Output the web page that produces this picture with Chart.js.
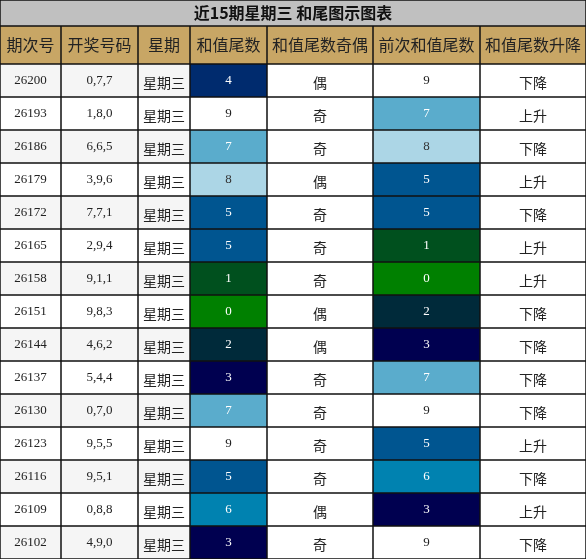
<!DOCTYPE html>
<html>
<head>
<meta charset="utf-8">
<script src="https://cdn.jsdelivr.net/npm/chart.js@4"></script>
<style>body{margin:0;background:#fff}</style>
</head>
<body>
<canvas id="c" width="586" height="559"></canvas>
<script>
const title = '近15期星期三 和尾图示图表';
const headers = ['期次号', '开奖号码', '星期', '和值尾数', '和值尾数奇偶', '前次和值尾数', '和值尾数升降'];
const periods = ['26200', '26193', '26186', '26179', '26172', '26165', '26158', '26151', '26144', '26137', '26130', '26123', '26116', '26109', '26102'];
const draws = ['0,7,7', '1,8,0', '6,6,5', '3,9,6', '7,7,1', '2,9,4', '9,1,1', '9,8,3', '4,6,2', '5,4,4', '0,7,0', '9,5,5', '9,5,1', '0,8,8', '4,9,0'];
const weekday = '星期三';
const sumTail = [4, 9, 7, 8, 5, 5, 1, 0, 2, 3, 7, 9, 5, 6, 3];
const parity = ['偶', '奇', '奇', '偶', '奇', '奇', '奇', '偶', '偶', '奇', '奇', '奇', '奇', '偶', '奇'];
const prevTail = [9, 7, 8, 5, 5, 1, 0, 2, 3, 7, 9, 5, 6, 3, 9];
const trend = ['下降', '上升', '下降', '上升', '下降', '上升', '上升', '下降', '下降', '下降', '下降', '上升', '下降', '上升', '下降'];

// 尾数颜色
const digitColor = {0: '#008000', 1: '#00501e', 2: '#002a3a', 3: '#000050', 4: '#002b6e',
  5: '#005590', 6: '#0082b0', 7: '#5aaccc', 8: '#acd6e6', 9: null};

const colEdges = [0, 61, 138, 190, 267, 373, 480, 586];
const titleH = 26, headH = 38, rowH = 33;
const SERIF = '13px "Liberation Serif", serif';
const CJK = '14px "Noto Sans CJK SC", sans-serif';

const tablePlugin = {
  id: 'table',
  afterDraw(chart) {
    const ctx = chart.ctx, xs = chart.scales.x, ys = chart.scales.y;
    const X = v => xs.getPixelForValue(v), Y = v => ys.getPixelForValue(v);
    function cell(x0, x1, y0, y1, bg, text, font, color, dy) {
      ctx.fillStyle = bg || '#fff';
      ctx.fillRect(X(x0), Y(y0), X(x1) - X(x0), Y(y1) - Y(y0));
      if (text !== undefined) {
        ctx.fillStyle = color || '#222';
        ctx.font = font;
        ctx.textAlign = 'center';
        ctx.textBaseline = 'middle';
        ctx.fillText(text, (X(x0) + X(x1)) / 2, (Y(y0) + Y(y1)) / 2 + (dy || 0));
      }
    }
    ctx.save();
    cell(0, 586, 0, titleH, '#c0c0c0', title, 'bold 16px "Noto Sans CJK SC", sans-serif', '#111');
    headers.forEach((h, i) => cell(colEdges[i], colEdges[i + 1], titleH, titleH + headH, '#c8a665', h, '16px "Noto Sans CJK SC", sans-serif', '#222'));
    periods.forEach((p, r) => {
      const y0 = titleH + headH + r * rowH, y1 = y0 + rowH;
      const rowBg = r % 2 === 0 ? '#f5f5f5' : '#ffffff';
      const tc = d => digitColor[d];
      const fg = d => (d === 9 ? '#222' : d === 8 ? '#333' : '#fff');
      const vals = [
        [p, SERIF, rowBg, '#222', 0],
        [draws[r], SERIF, rowBg, '#222', 0],
        [weekday, CJK, rowBg, '#222', 2],
        [String(sumTail[r]), SERIF, tc(sumTail[r]) || '#fff', fg(sumTail[r]), 0],
        [parity[r], CJK, '#fff', '#222', 2],
        [String(prevTail[r]), SERIF, tc(prevTail[r]) || '#fff', fg(prevTail[r]), 0],
        [trend[r], CJK, '#fff', '#222', 2]
      ];
      vals.forEach((v, i) => cell(colEdges[i], colEdges[i + 1], y0, y1, v[2], v[0], v[1], v[3], v[4]));
    });
    // 网格线
    ctx.strokeStyle = '#111';
    ctx.lineWidth = 1.5;
    ctx.beginPath();
    const bottom = titleH + headH + periods.length * rowH;
    [0, titleH, titleH + headH].concat(periods.map((_, r) => titleH + headH + (r + 1) * rowH)).forEach(y => {
      ctx.moveTo(X(0), Y(y)); ctx.lineTo(X(586), Y(y));
    });
    colEdges.forEach((x, i) => {
      ctx.moveTo(X(x), Y(i === 0 || i === colEdges.length - 1 ? 0 : titleH)); ctx.lineTo(X(x), Y(bottom));
    });
    ctx.stroke();
    ctx.restore();
  }
};

new Chart(document.getElementById('c'), {
  type: 'scatter',
  data: { datasets: [{ data: [] }] },
  options: {
    responsive: false,
    animation: false,
    devicePixelRatio: 1,
    layout: { padding: 0 },
    plugins: { legend: { display: false }, tooltip: { enabled: false } },
    scales: {
      x: { type: 'linear', min: 0, max: 586, display: false },
      y: { type: 'linear', min: 0, max: 559, reverse: true, display: false }
    }
  },
  plugins: [tablePlugin]
});
</script>
</body>
</html>
